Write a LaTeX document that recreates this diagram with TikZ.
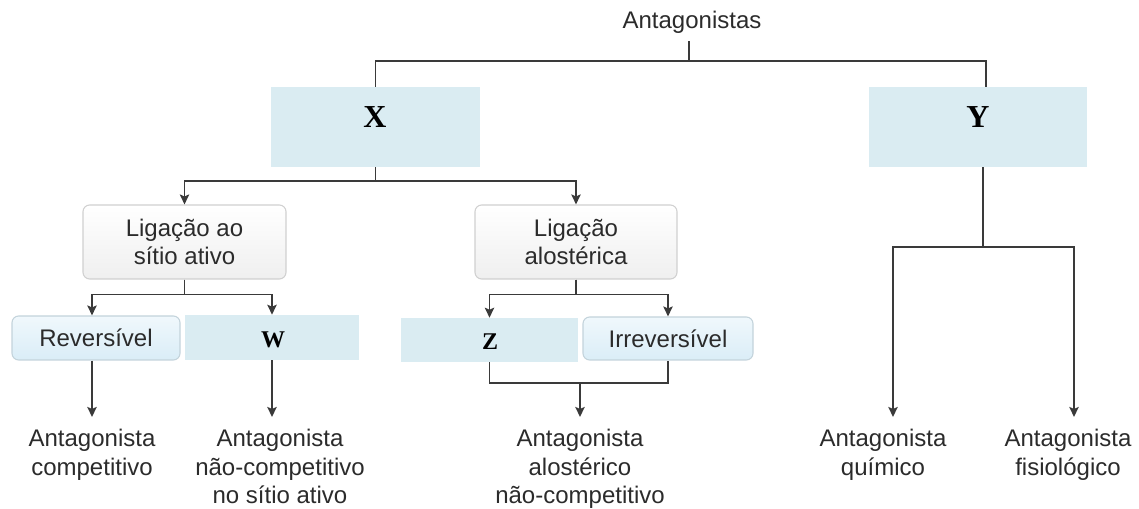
\documentclass[tikz,border=0pt]{standalone}
\usepackage{fontspec}
\setmainfont{Liberation Sans}
\newfontfamily\letterfont{Liberation Serif}
\usetikzlibrary{arrows.meta}
\definecolor{boxblue}{HTML}{DAECF2}
\definecolor{linec}{HTML}{3A3A3A}
\definecolor{txt}{HTML}{2B2B2B}
\definecolor{grayborder}{HTML}{D0D0D0}
\definecolor{grayfill}{HTML}{EFEFEF}
\definecolor{lbtop}{HTML}{F0F8FC}
\definecolor{lbbot}{HTML}{DAEDF7}
\definecolor{lbborder}{HTML}{C3D3DB}
\newcommand\labfont{\fontsize{18}{21.5}\selectfont}
\begin{document}
\begin{tikzpicture}[x=0.75pt,y=-0.75pt,
  conn/.style={draw=linec, line width=1.4pt},
  arr/.style={conn, -{Stealth[length=7.5pt,width=7pt,inset=1.5pt]}},
  lettbox/.style={fill=boxblue, draw=none, inner sep=0pt},
  bigletter/.style={font=\letterfont\bfseries\fontsize{24}{24}\selectfont, inner sep=0pt},
  smallletter/.style={font=\letterfont\bfseries\fontsize{18}{18}\selectfont, inner sep=0pt},
  greybox/.style={rounded corners=5pt, draw=grayborder, line width=0.8pt, top color=white, bottom color=grayfill, align=center, font=\labfont, text=txt, inner sep=0pt},
  lbbox/.style={rounded corners=5pt, draw=lbborder, line width=0.8pt, top color=lbtop, bottom color=lbbot, align=center, font=\labfont, text=txt, inner sep=0pt},
  endtext/.style={align=center, font=\labfont, text=txt, inner sep=0pt, outer sep=9pt, anchor=north},
]
\path[use as bounding box] (0,0) rectangle (1139,509);

% top label
\node[font=\labfont, text=txt, anchor=base, outer sep=2pt] (ant) at (692,29) {Antagonistas};

% level 1
\node[lettbox, minimum width=156.75pt, minimum height=60pt] (X) at (375.5,127) {};
\node[bigletter] (Xt) at (375,117.5) {X};
\node[lettbox, minimum width=163.5pt, minimum height=60pt] (Y) at (978,127) {};
\node[bigletter] (Yt) at (978,117.5) {Y};

% level 2
\node[greybox, minimum width=152.25pt, minimum height=55.5pt] (L1) at (184.5,242) {Ligação ao\\sítio ativo};
\node[greybox, minimum width=151.5pt, minimum height=55.5pt] (L2) at (576,242) {Ligação\\alostérica};

% level 3
\node[lbbox, minimum width=126pt, minimum height=33pt] (Rev) at (96,338) {Reversível};
\node[lettbox, minimum width=130.5pt, minimum height=33.75pt] (W) at (272,337.5) {};
\node[smallletter] (Wt) at (273,339.5) {W};
\node[lettbox, minimum width=132.75pt, minimum height=33pt] (Z) at (489.5,340) {};
\node[smallletter] (Zt) at (490,341.5) {Z};
\node[lbbox, minimum width=127.5pt, minimum height=32.25pt] (Irr) at (668,338.5) {Irreversível};

% bottom texts
\node[endtext] (A1) at (92,417) {Antagonista\\competitivo};
\node[endtext] (A2) at (280,417) {Antagonista\\não-competitivo\\no sítio ativo};
\node[endtext] (A3) at (580,417) {Antagonista\\alostérico\\não-competitivo};
\node[endtext] (A4) at (883,417) {Antagonista\\químico};
\node[endtext] (A5) at (1068,417) {Antagonista\\fisiológico};

% connectors
\coordinate (xtop) at (375.5,61);
\coordinate (ytop) at (986,61);
\draw[conn] ([xshift=-2.25pt]ant.south) -- ([xshift=-2.25pt]ant.south |- xtop);
\draw[conn] (X.north) -- (xtop) -- (ytop) -- (ytop |- Y.north);

\draw[arr] (X.south) -- ++(0,14) -| (L1.north);
\draw[arr] (X.south) -- ++(0,14) -| (L2.north);

\draw[arr] (L1.south) -- ++(0,15) -| ([xshift=-3pt]Rev.north);
\draw[arr] (L1.south) -- ++(0,15) -| (W.north);
\draw[arr] (L2.south) -- ++(0,15) -| (Z.north);
\draw[arr] (L2.south) -- ++(0,15) -| (Irr.north);

\draw[conn] (Z.south) -- ++(0,21) coordinate (zl) -| (Irr.south);
\draw[arr] (zl -| A3.north) -- (A3.north);

\draw[arr] ([xshift=-3pt]Rev.south) -- ([xshift=-3pt]Rev.south |- A1.north);
\draw[arr] (W.south) -- (W.south |- A2.north);

\draw[conn] ([xshift=3.75pt]Y.south) -- ++(0,80) coordinate (yj);
\draw[arr] (yj) -| ([xshift=7.5pt]A4.north);
\draw[arr] (yj) -| ([xshift=4.5pt]A5.north);
\end{tikzpicture}
\end{document}
